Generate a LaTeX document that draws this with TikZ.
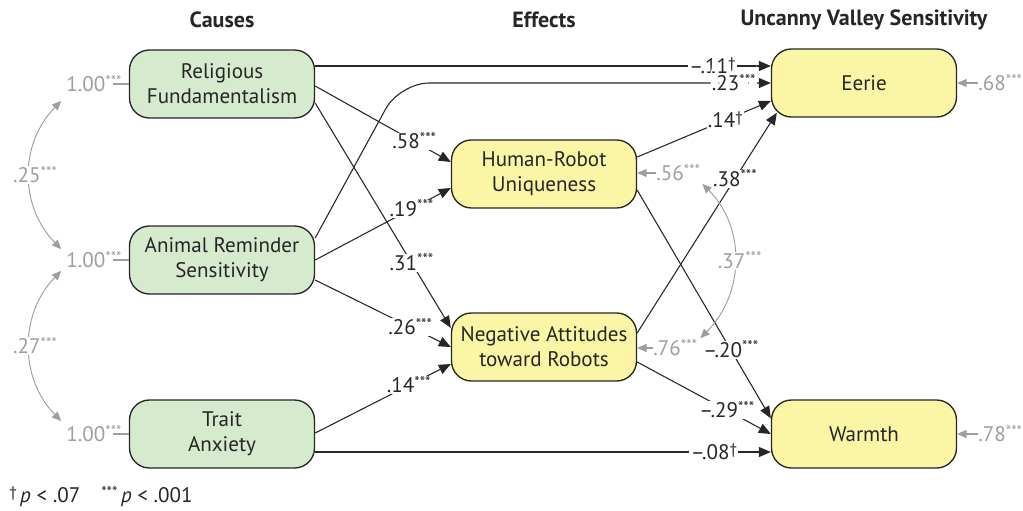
\documentclass[tikz,border=0pt]{standalone}
\usepackage{fontspec}
\setmainfont{PT Sans}
\usetikzlibrary{arrows.meta,calc}
\definecolor{gfill}{HTML}{D6EACD}
\definecolor{yfill}{HTML}{FAF6A6}
\definecolor{edge}{HTML}{262626}
\definecolor{lgray}{HTML}{9E9E9E}
\newcommand\sig[1]{\smash{\raisebox{0.5ex}{\fontsize{11.5}{11.5}\selectfont #1}}}
\begin{document}
\begin{tikzpicture}[x=0.75pt,y=-0.75pt,
  every node/.style={font=\fontsize{15.8}{18.75}\selectfont, text=edge},
  box/.style={draw=edge, line width=1pt, rounded corners=15pt, minimum width=138.75pt, minimum height=51pt, align=center, inner sep=2pt},
  cause/.style={box, fill=gfill},
  effect/.style={box, fill=yfill},
  link/.style={draw=edge, line width=0.8pt, -{Triangle[length=9pt,width=7.5pt]}},
  lab/.style={fill=white, inner sep=1pt},
  glab/.style={text=lgray, inner sep=0pt},
  gline/.style={draw=lgray, line width=0.8pt},
  garrow/.style={draw=lgray, line width=0.8pt, -{Triangle[length=7pt,width=6pt]}},
  gcurve/.style={draw=lgray, line width=0.7pt, {Triangle[length=7pt,width=6pt]}-{Triangle[length=7pt,width=6pt]}},
  glabw/.style={text=lgray, fill=white, inner sep=1pt},
  head/.style={font=\fontsize{16.5}{18}\selectfont\bfseries}
]
\useasboundingbox (0,0) rectangle (1023,510);

% headers
\node[head] (hc) at (222,20) {Causes};
\node[head] (he) at (544,20) {Effects};
\node[head] (hu) at (864,20) {Uncanny Valley Sensitivity};

% boxes
\node[cause] (rf) at (222,84) {Religious\\Fundamentalism};
\node[cause] (ars) at (222,260) {Animal Reminder\\Sensitivity};
\node[cause] (ta) at (222,434) {Trait\\Anxiety};
\node[effect] (hru) at (544,174) {Human-Robot\\Uniqueness};
\node[effect] (nar) at (544,347) {Negative Attitudes\\toward Robots};
\node[effect] (eer) at (864,83) {Eerie};
\node[effect] (war) at (864,434) {Warmth};

% paths
\coordinate (s1) at ($(rf.east)+(0,-18)$);
\draw[link] (s1) -- node[lab,pos=0.872] {–.11\sig{†}} (s1 -| eer.west);

\coordinate (s2) at ($(ars.east)+(0,-22)$);
\path (eer.west) ++(-371,0) coordinate (c2);
\draw[link, rounded corners=22pt] (s2) -- (c2) -- node[lab,pos=0.9] {.23\sig{***}} (eer.west);

\draw[link] ($(rf.east)+(0,2)$) -- node[lab,pos=0.73] {.58\sig{***}} ($(hru.west)+(0,-12)$);
\draw[link] ($(rf.east)+(0,19)$) -- node[lab,pos=0.71] {.31\sig{***}} ($(nar.west)+(0,-19)$);
\draw[link] (ars.east) -- node[lab,pos=0.71] {.19\sig{***}} ($(hru.west)+(0,14)$);
\draw[link] ($(ars.east)+(0,20)$) -- node[lab,pos=0.7] {.26\sig{***}} (nar.west);
\draw[link] ($(ta.east)+(0,-1)$) -- node[lab,pos=0.69] {.14\sig{***}} ($(nar.west)+(0,17)$);

\coordinate (s8) at ($(ta.east)+(0,18)$);
\draw[link] (s8) -- node[lab,pos=0.875] {–.08\sig{†}} (s8 -| war.west);

\draw[link] ($(hru.east)+(0,-17)$) -- node[lab,pos=0.66] {.14\sig{†}} ($(eer.west)+(0,18)$);
\draw[link] ($(nar.east)+(0,-14)$) -- node[lab,pos=0.7] {.38\sig{***}} ($(eer.south west)+(6,-5)$);
\draw[link] ($(hru.east)+(0,16)$) -- node[lab,pos=0.7] {–.20\sig{***}} ($(war.north west)+(0,19)$);
\draw[link] ($(nar.east)+(0,15)$) -- node[lab,pos=0.67] {–.29\sig{***}} (war.west);

% residuals right
\node[glab, anchor=west] (r68) at ($(eer.east)+(21,0)$) {.68\sig{***}};
\draw[garrow] (r68.west) -- (r68.west -| eer.east);
\node[glab, anchor=west] (r78) at ($(war.east)+(21,0)$) {.78\sig{***}};
\draw[garrow] (r78.west) -- (r78.west -| war.east);
\node[glab, anchor=west] (r56) at ($(hru.east)+(19,-1)$) {.56\sig{***}};
\draw[garrow] (r56.west) -- (r56.west -| hru.east);
\node[glab, anchor=west] (r76) at ($(nar.east)+(16,1)$) {.76\sig{***}};
\draw[garrow] (r76.west) -- (r76.west -| nar.east);

\draw[gcurve] ($(r56.south east)+(2,3)$) .. controls +(44,44) and +(44,-44) .. node[glabw, pos=0.5, xshift=4pt] {.37\sig{***}} ($(r76.north east)+(3,-2)$);

% left variances
\node[glab, anchor=east] (l1) at ($(rf.west)+(-7,0)$) {1.00\sig{***}};
\node[glab, anchor=east] (l2) at ($(ars.west)+(-7,0)$) {1.00\sig{***}};
\node[glab, anchor=east] (l3) at ($(ta.west)+(-7,0)$) {1.00\sig{***}};
\draw[gline] ($(l1.east)+(-9,0)$) -- (rf.west);
\draw[gline] ($(l2.east)+(-9,0)$) -- (ars.west);
\draw[gline] ($(l3.east)+(-9,0)$) -- (ta.west);

\draw[gcurve] ($(l1.south west)+(-5,9)$) .. controls +(-42,43) and +(-42,-43) .. node[glabw, pos=0.5, xshift=4pt] {.25\sig{***}} ($(l2.north west)+(-5,-3)$);
\draw[gcurve] ($(l2.south west)+(-5,3)$) .. controls +(-42,43) and +(-42,-43) .. node[glabw, pos=0.5, xshift=4pt] {.27\sig{***}} ($(l3.north west)+(-5,-5)$);

% footnote
\node[anchor=west, inner sep=0pt] (fn) at (9,497) {\sig{†}\,\textit{p} < .07\quad\sig{***}\,\textit{p} < .001};
\end{tikzpicture}
\end{document}
